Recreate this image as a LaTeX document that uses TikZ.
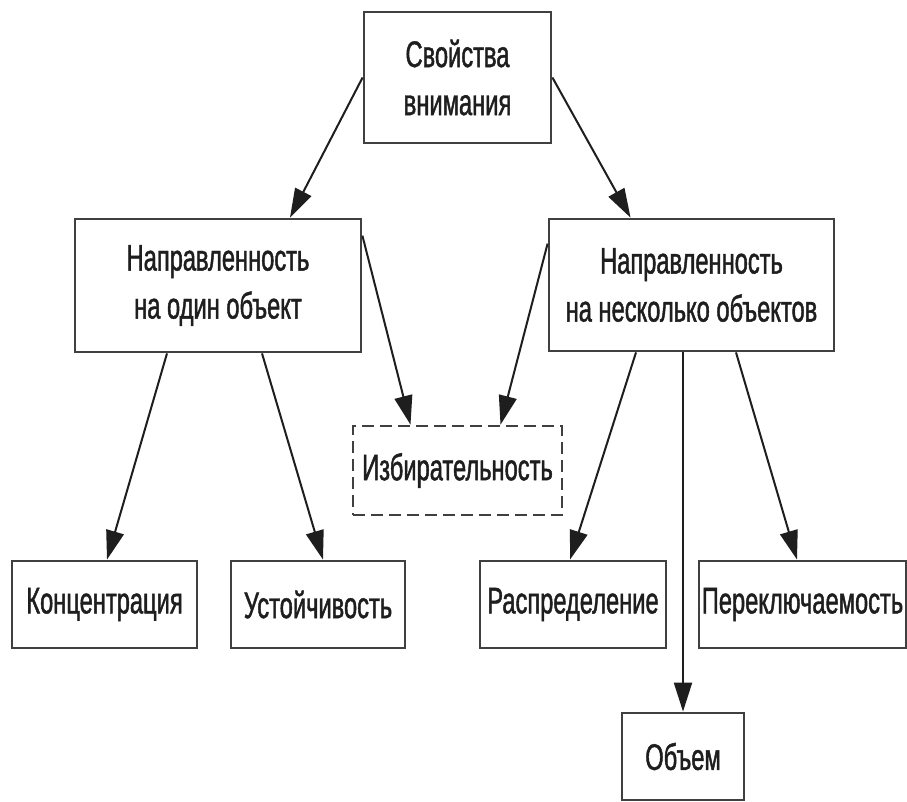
\documentclass[tikz,border=0pt]{standalone}
\usepackage{fontspec}
\setmainfont{Liberation Sans}[FakeStretch=0.64,FakeBold=1.2]
\usetikzlibrary{arrows.meta}
\definecolor{ink}{HTML}{1E1E1E}
\begin{document}
\begin{tikzpicture}[x=1pt,y=-1pt,
  box/.style={draw=ink!85, line width=2.8pt, inner sep=0pt, align=center,
    font=\fontsize{37}{48}\selectfont, text=ink},
  dbox/.style={box, dash pattern=on 12pt off 6pt, line width=2.6pt},
  arr/.style={draw=ink, line width=2pt, -{Triangle[length=29pt,width=18pt]}}]
\useasboundingbox (0,0) rectangle (907,802);
\fill[white] (0,0) rectangle (907,802);
\node[box, minimum width=187pt, minimum height=131pt] (top) at (457.5,77.5) {Свойства\\внимания};
\node[box, minimum width=286pt, minimum height=133pt] (lb) at (218,285.5) {Направленность\\на один объект};
\node[box, minimum width=285pt, minimum height=132pt] (rb) at (691.5,285) {Направленность\\на несколько объектов};
\node[dbox, minimum width=209pt, minimum height=89pt] (iz) at (457.5,470.5) {Избирательность};
\node[box, minimum width=185pt, minimum height=87pt] (ko) at (104.5,604.5) {Концентрация};
\node[box, minimum width=174pt, minimum height=87pt] (us) at (318,604.5) {Устойчивость};
\node[box, minimum width=186pt, minimum height=87pt] (ra) at (573,604.5) {Распределение};
\node[box, minimum width=207pt, minimum height=87pt] (pe) at (802.5,604.5) {Переключаемость};
\node[box, minimum width=122pt, minimum height=87pt] (ob) at (683,756.5) {Объем};
\draw[arr] (top.west) -- ([xshift=72pt]lb.north);
\draw[arr] (top.east) -- ([xshift=-61pt]rb.north);
\draw[arr] ([yshift=-18pt]lb.north east) -- ([xshift=-47pt]iz.north);
\draw[arr] ([yshift=-26pt]rb.north west) -- ([xshift=43pt]iz.north);
\draw[arr] ([xshift=-51pt]lb.south) -- ([xshift=2.5pt]ko.north);
\draw[arr] ([xshift=44pt]lb.south) -- ([xshift=5pt]us.north);
\draw[arr] ([xshift=-55.5pt]rb.south) -- ([xshift=-3pt]ra.north);
\draw[arr] ([xshift=44.5pt]rb.south) -- ([xshift=-5.5pt]pe.north);
\draw[arr] (ob.north |- rb.south) -- (ob.north);
\end{tikzpicture}
\end{document}
